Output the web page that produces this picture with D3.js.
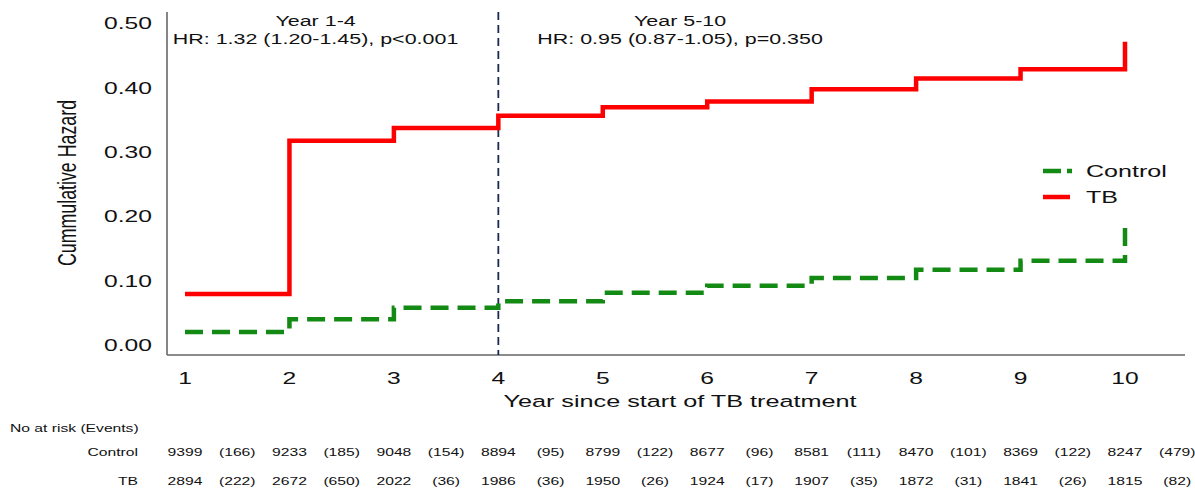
<!DOCTYPE html>
<html><head><meta charset="utf-8">
<script src="https://cdn.jsdelivr.net/npm/d3@7"></script>
<style>body{margin:0;background:#fff}svg{display:block;font-family:"Liberation Sans",Arial,sans-serif}</style>
</head><body><svg id="c" width="1195" height="488"></svg>
<script>
const years = [1,2,3,4,5,6,7,8,9,10];
const tbHazard = [0.079,0.317,0.337,0.356,0.369,0.378,0.397,0.414,0.428,0.471];
const controlHazard = [0.020,0.040,0.058,0.068,0.081,0.092,0.104,0.117,0.131,0.187];
const yTicks = [0,0.1,0.2,0.3,0.4,0.5];
const controlAtRisk = [9399,9233,9048,8894,8799,8677,8581,8470,8369,8247];
const controlEvents = [166,185,154,95,122,96,111,101,122,479];
const tbAtRisk = [2894,2672,2022,1986,1950,1924,1907,1872,1841,1815];
const tbEvents = [222,650,36,36,26,17,35,31,26,82];
const periods = [{label:"Year 1-4", hr:"HR: 1.32 (1.20-1.45), p<0.001", at:2.25},
                 {label:"Year 5-10", hr:"HR: 0.95 (0.87-1.05), p=0.350", at:5.74}];
const splitYear = 4;

const SX = 1.45;   // horizontal text stretch seen in the reference
const svg = d3.select("#c");
const x = d3.scaleLinear().domain([1,10]).range([185,1125]);
const y = d3.scaleLinear().domain([0,0.5]).range([345,23]);
const axisLeft = 167, axisBottom = 355, axisRight = 1185, axisTop = 12;

function txt(px, py, s, size, anchor, sx){
  return svg.append("text").attr("transform",`translate(${px},${py}) scale(${sx||SX},1)`)
    .attr("text-anchor",anchor||"start").attr("font-size",size).attr("fill","#111").text(s);
}

// axes lines
svg.append("line").attr("x1",axisLeft).attr("x2",axisLeft).attr("y1",axisTop).attr("y2",axisBottom).attr("stroke","#444").attr("stroke-width",1.3);
svg.append("line").attr("x1",axisLeft).attr("x2",axisRight).attr("y1",axisBottom).attr("y2",axisBottom).attr("stroke","#666").attr("stroke-width",1.3);

// y tick labels
svg.append("g").selectAll("text").data(yTicks).join("text")
  .attr("transform",d=>`translate(152,${y(d)}) scale(${SX},1)`).attr("dy","0.36em").attr("text-anchor","end")
  .attr("font-size",17).attr("fill","#111").text(d=>d3.format(".2f")(d));
// x tick labels
svg.append("g").selectAll("text").data(years).join("text")
  .attr("transform",d=>`translate(${x(d)},384) scale(${SX},1)`).attr("text-anchor","middle")
  .attr("font-size",17).attr("fill","#111").text(d=>d);

txt(680, 407, "Year since start of TB treatment", 17.4, "middle");
svg.append("text").attr("transform",`translate(76,183) scale(${SX},1) rotate(-90)`).attr("text-anchor","middle")
  .attr("font-size",17.8).attr("fill","#111").text("Cummulative Hazard");

// split line
svg.append("line").attr("x1",x(splitYear)).attr("x2",x(splitYear)).attr("y1",axisTop).attr("y2",axisBottom)
  .attr("stroke","#1c2a52").attr("stroke-width",1.8).attr("stroke-dasharray","8,5");

// annotations
periods.forEach(p=>{
  txt(x(p.at), 26, p.label, 14.8, "middle");
  txt(x(p.at), 44, p.hr, 14.8, "middle");
});

const line = d3.line().x(d=>x(d[0])).y(d=>y(d[1])).curve(d3.curveStepAfter);
svg.append("path").datum(years.map((t,i)=>[t,controlHazard[i]])).attr("d",line)
  .attr("fill","none").attr("stroke","#138a13").attr("stroke-width",4.5).attr("stroke-dasharray","18,9");
svg.append("path").datum(years.map((t,i)=>[t,tbHazard[i]])).attr("d",line)
  .attr("fill","none").attr("stroke","#ff0000").attr("stroke-width",4.5);

// legend
const leg = [{name:"Control",color:"#138a13",dash:"18,6",yy:171,x2:1072},{name:"TB",color:"#ff0000",dash:null,yy:197,x2:1070}];
leg.forEach(l=>{
  svg.append("line").attr("x1",1043).attr("x2",l.x2).attr("y1",l.yy).attr("y2",l.yy)
    .attr("stroke",l.color).attr("stroke-width",4.5).attr("stroke-dasharray",l.dash);
  txt(1086, l.yy+6, l.name, 17.3, "start");
});

// risk table
const RS = 1.35, RF = 11.6;
txt(10, 432, "No at risk (Events)", RF, "start", RS);
const rows = [{name:"Control",risk:controlAtRisk,ev:controlEvents,yy:456},{name:"TB",risk:tbAtRisk,ev:tbEvents,yy:485}];
rows.forEach(r=>{
  txt(138, r.yy, r.name, RF, "end", RS);
  svg.append("g").selectAll("text").data(years).join("text")
    .attr("transform",d=>`translate(${x(d)},${r.yy}) scale(${RS},1)`).attr("text-anchor","middle")
    .attr("font-size",RF).attr("fill","#111").text((d,i)=>r.risk[i]);
  svg.append("g").selectAll("text").data(years).join("text")
    .attr("transform",d=>`translate(${x(d+0.5)},${r.yy}) scale(${RS},1)`).attr("text-anchor","middle")
    .attr("font-size",RF).attr("fill","#111").text((d,i)=>"("+r.ev[i]+")");
});
</script></body></html>
